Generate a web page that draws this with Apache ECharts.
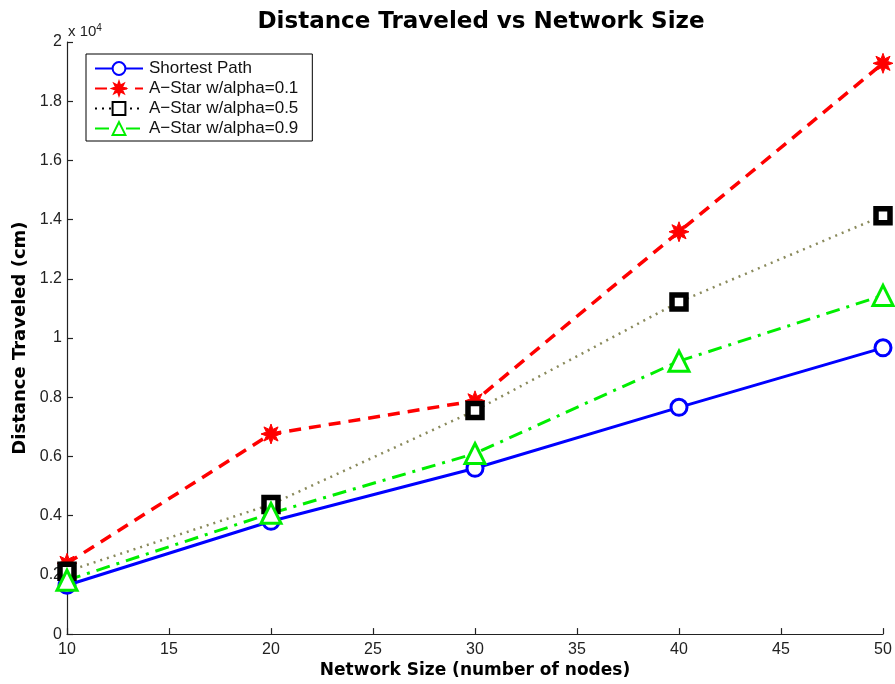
<!DOCTYPE html>
<html>
<head>
<meta charset="utf-8">
<script src="https://cdn.jsdelivr.net/npm/echarts@6/dist/echarts.min.js"></script>
<style>
  html,body{margin:0;padding:0;background:#fff;}
  #main{width:895px;height:684px;}
</style>
</head>
<body>
<div id="main"></div>
<script>
  // network sizes (x axis)
  var sizes=[10,20,30,40,50];
  // distance traveled (cm)
  var shortestPath=[1650,3810,5600,7660,9670];
  var alpha01=[2390,6760,7880,13590,19280];
  var alpha05=[2120,4380,7550,11220,14130];
  var alpha09=[1820,4080,6100,9220,11440];
  var names=['Shortest Path','A\u2212Star w/alpha=0.1','A\u2212Star w/alpha=0.5','A\u2212Star w/alpha=0.9'];

  var boldFont='"DejaVu Sans", Arial, sans-serif';
  var font='"Liberation Sans", Arial, sans-serif';
  var star='path://M20,10 L14.62,11.91 L17.07,17.07 L11.91,14.62 L10,20 L8.09,14.62 L2.93,17.07 L5.38,11.91 L0,10 L5.38,8.09 L2.93,2.93 L8.09,5.38 L10,0 L11.91,5.38 L17.07,2.93 L14.62,8.09 Z';

  function pairs(vals){
    return sizes.map(function(s,i){return [s,vals[i]];});
  }

  let myChart=echarts.init(document.getElementById('main'));
  let option={
    animation:false,
    title:{
      text:'Distance Traveled vs Network Size',
      left:476,
      textAlign:'center',
      top:6,
      textStyle:{fontFamily:boldFont,fontSize:23,fontWeight:'bold',color:'#000'}
    },
    legend:{
      orient:'vertical',
      left:86,
      top:54,
      padding:[6,14,4,8],
      itemGap:3,
      itemWidth:48,
      itemHeight:16,
      backgroundColor:'#fff',
      borderColor:'#000',
      borderWidth:1,
      textStyle:{fontFamily:font,fontSize:17,color:'#111',padding:[0,0,0,1]},
      data:[
        {name:names[0]},
        {name:names[1]},
        {name:names[2],lineStyle:{color:'#000'}},
        {name:names[3]}
      ]
    },
    grid:{left:67,right:12,top:42,bottom:48},
    graphic:[{
      type:'text',
      left:68,
      top:23,
      style:{
        text:'x 10{s|4}',
        fontFamily:font,
        fontSize:15,
        fill:'#222',
        rich:{s:{fontSize:10,verticalAlign:'top',padding:[0,0,7,0],fontFamily:font,fill:'#222'}}
      }
    }],
    xAxis:{
      type:'value',
      min:10,
      max:50,
      interval:5,
      name:'Network Size (number of nodes)',
      nameLocation:'middle',
      nameGap:24,
      nameTextStyle:{fontFamily:boldFont,fontSize:17,fontWeight:'bold',color:'#000'},
      axisLine:{onZero:false,lineStyle:{color:'#222',width:1.2}},
      axisTick:{inside:true,length:6,lineStyle:{color:'#222',width:1.2}},
      axisLabel:{fontFamily:font,fontSize:16,color:'#222',margin:7},
      splitLine:{show:false}
    },
    yAxis:{
      type:'value',
      min:0,
      max:20000,
      interval:2000,
      name:'Distance Traveled (cm)',
      nameLocation:'middle',
      nameGap:38,
      nameRotate:90,
      nameTextStyle:{fontFamily:boldFont,fontSize:18,fontWeight:'bold',color:'#000'},
      axisLine:{show:true,lineStyle:{color:'#222',width:1.2}},
      axisTick:{show:true,inside:true,length:6,lineStyle:{color:'#222',width:1.2}},
      axisLabel:{
        fontFamily:font,fontSize:16,color:'#222',margin:5,
        formatter:function(v){return String(Math.round(v/1000)/10);}
      },
      splitLine:{show:false}
    },
    series:[
      {
        name:names[0],
        type:'line',
        data:pairs(shortestPath),
        color:'#0000ff',
        symbol:'circle',
        symbolSize:16,
        lineStyle:{color:'#0000ff',width:3,type:'solid'},
        itemStyle:{color:'#fff',borderColor:'#0000ff',borderWidth:3}
      },
      {
        name:names[1],
        type:'line',
        data:pairs(alpha01),
        color:'#ff0000',
        symbol:star,
        symbolSize:20,
        lineStyle:{color:'#ff0000',width:3.5,type:[12,8]},
        itemStyle:{color:'#ff0000',borderColor:'#ff0000',borderWidth:1}
      },
      {
        name:names[2],
        type:'line',
        data:pairs(alpha05),
        color:'#000',
        symbol:'rect',
        symbolSize:14,
        lineStyle:{color:'#8a8a5c',width:2.5,type:[2,5]},
        itemStyle:{color:'#fff',borderColor:'#000',borderWidth:5.5}
      },
      {
        name:names[3],
        type:'line',
        data:pairs(alpha09),
        color:'#00ee00',
        symbol:'triangle',
        symbolSize:20,
        lineStyle:{color:'#00ee00',width:3,type:[14,7,3,7]},
        itemStyle:{color:'#fff',borderColor:'#00ee00',borderWidth:3}
      }
    ]
  };
  myChart.setOption(option);
</script>
</body>
</html>
